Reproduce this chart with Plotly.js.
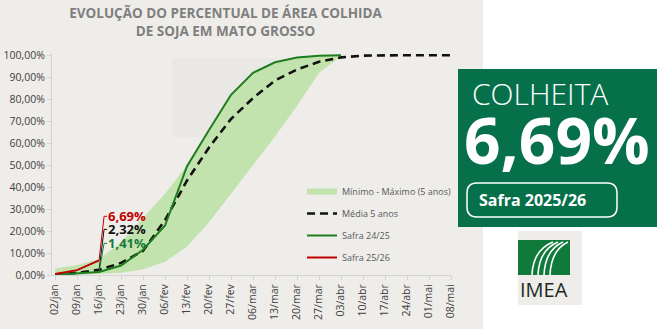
<!DOCTYPE html>
<html>
<head>
<meta charset="utf-8">
<script src="https://cdn.plot.ly/plotly-3.0.1.min.js"></script>
<style>
html,body{margin:0;padding:0;background:#ffffff;}
#chart{width:666px;height:329px;}
</style>
</head>
<body>
<div id="chart"></div>
<script>
// ---- data ----
const weeks = ['02/jan','09/jan','16/jan','23/jan','30/jan','06/fev','13/fev','20/fev','27/fev','06/mar','13/mar','20/mar','27/mar','03/abr','10/abr','17/abr','24/abr','01/mai','08/mai'];
const bandMin = [0, 0.2, 0.5, 1.0, 2.5, 6, 13, 24, 37, 50, 63, 77, 92, 99.5];
const bandMax = [3, 4.5, 7.2, 15, 26, 37, 50, 66.5, 82.5, 92.5, 97, 99.2, 100, 100];
const media5 = [0.2, 1.0, 2.32, 5.5, 11, 25, 43, 58, 71, 80.5, 88.5, 93.5, 97, 99, 99.8, 100, 100, 100, 100];
const safra2425 = [0.1, 0.7, 1.41, 4.3, 11.5, 22.5, 49.5, 66, 82, 92, 96.8, 99, 99.8, 100];
const safra2526 = [0.5, 2.2, 6.69];
const yTickVals = [0, 10, 20, 30, 40, 50, 60, 70, 80, 90, 100];
const yTickText = ['0,00%', '10,00%', '20,00%', '30,00%', '40,00%', '50,00%', '60,00%', '70,00%', '80,00%', '90,00%', '100,00%'];
const seriesNames = ['Mínimo - Máximo (5 anos)', 'Média 5 anos', 'Safra 24/25', 'Safra 25/26'];
const titleText = 'EVOLUÇÃO DO PERCENTUAL DE ÁREA COLHIDA<br>DE SOJA EM MATO GROSSO';
const panelTitle = 'COLHEITA';
const panelSub = 'Safra 2025/26';

// ---- helpers ----
const fmt = v => v.toFixed(2).replace('.', ',') + '%';
const W = 666, H = 329, L = 52, R = 451, T = 53, B = 275;
const px = x => (x - L) / (R - L);
const py = y => (B - y) / (B - T);

const cBand = '#c3e3ae', cGreen = '#1e7d1e', cRed = '#c00000', cDark = '#05704a';

const traces = [
  {x: weeks.slice(0, bandMin.length), y: bandMin, type: 'scatter', mode: 'lines',
   line: {width: 0, color: cBand}, showlegend: false, hoverinfo: 'skip'},
  {x: weeks.slice(0, bandMax.length), y: bandMax, type: 'scatter', mode: 'lines',
   fill: 'tonexty', fillcolor: cBand, line: {width: 0, color: cBand}, showlegend: false, hoverinfo: 'skip'},
  {x: [null], y: [null], type: 'scatter', mode: 'lines', name: seriesNames[0],
   line: {width: 6, color: cBand}, legendgroup: 'a', legendrank: 1},
  {x: weeks.slice(0, media5.length), y: media5, type: 'scatter', mode: 'lines', name: seriesNames[1],
   line: {width: 2.6, color: '#111111', dash: '8px,5px'}, legendgroup: 'b', legendrank: 2},
  {x: weeks.slice(0, safra2425.length), y: safra2425, type: 'scatter', mode: 'lines', name: seriesNames[2],
   line: {width: 2, color: cGreen}, legendgroup: 'c', legendrank: 3},
  {x: weeks.slice(0, safra2526.length), y: safra2526, type: 'scatter', mode: 'lines', name: seriesNames[3],
   line: {width: 2, color: cRed}, legendgroup: 'd', legendrank: 4}
];

const iLast = safra2526.length - 1;
const labelDefs = [
  {v: safra2526[iLast], color: cRed, dy: 44},
  {v: media5[iLast], color: '#111111', dy: 40.5},
  {v: safra2425[iLast], color: '#1a7a3c', dy: 28.5}
];

const shapes = [
  // white area on the right
  {type: 'rect', xref: 'paper', yref: 'paper', x0: px(483), x1: px(W + 5), y0: py(H + 5), y1: py(-5),
   fillcolor: '#ffffff', line: {width: 0}, layer: 'below'},
  // watermark block
  {type: 'rect', xref: 'paper', yref: 'paper', x0: px(172), x1: px(278), y0: py(137), y1: py(58),
   fillcolor: '#eae8e5', line: {width: 0}, layer: 'below'},
  // green panel
  {type: 'rect', xref: 'paper', yref: 'paper', x0: px(458), x1: px(657), y0: py(227), y1: py(69),
   fillcolor: cDark, line: {width: 0}, layer: 'above'},
  // logo box
  {type: 'rect', xref: 'paper', yref: 'paper', x0: px(518), x1: px(582), y0: py(305), y1: py(231),
   fillcolor: '#efedea', line: {width: 0}, layer: 'above'},
  {type: 'rect', xref: 'paper', yref: 'paper', x0: px(518), x1: px(570), y0: py(275), y1: py(240),
   fillcolor: '#0f7a3a', line: {width: 0}, layer: 'above'}
];

(function(){
  const x0 = 467, x1 = 617, y0 = 183, y1 = 217, r = 10;
  const P = (x, y) => px(x) + ',' + py(y);
  const path = 'M' + P(x0 + r, y0) + ' L' + P(x1 - r, y0) + ' Q' + P(x1, y0) + ' ' + P(x1, y0 + r) +
    ' L' + P(x1, y1 - r) + ' Q' + P(x1, y1) + ' ' + P(x1 - r, y1) +
    ' L' + P(x0 + r, y1) + ' Q' + P(x0, y1) + ' ' + P(x0, y1 - r) +
    ' L' + P(x0, y0 + r) + ' Q' + P(x0, y0) + ' ' + P(x0 + r, y0) + ' Z';
  shapes.push({type: 'path', xref: 'paper', yref: 'paper', path: path, line: {color: '#ffffff', width: 1.5}, layer: 'above'});
  // logo curves
  for (let i = 0; i < 4; i++) {
    const sx = 532 + i * 6, ex = 553 + i * 5;
    const p = 'M' + P(sx, 275) + ' Q' + P(sx + 1, 250) + ' ' + P(ex, 242);
    shapes.push({type: 'path', xref: 'paper', yref: 'paper', path: p, line: {color: '#ffffff', width: 1.6}, layer: 'above'});
  }
})();

// leader lines for labels
labelDefs.forEach(d => {
  shapes.push({type: 'line', xref: 'x', yref: 'y', xsizemode: 'pixel', ysizemode: 'pixel',
    xanchor: weeks[iLast], yanchor: d.v, x0: 0, x1: 5, y0: 0, y1: d.dy, line: {color: d.color, width: 1}});
  shapes.push({type: 'line', xref: 'x', yref: 'y', xsizemode: 'pixel', ysizemode: 'pixel',
    xanchor: weeks[iLast], yanchor: d.v, x0: 5, x1: 8, y0: d.dy, y1: d.dy, line: {color: d.color, width: 1}});
});

const annotations = labelDefs.map(d => ({
  x: weeks[iLast], y: d.v, xref: 'x', yref: 'y', text: '<b>' + fmt(d.v) + '</b>', showarrow: false,
  xanchor: 'left', yanchor: 'middle', xshift: 8, yshift: d.dy, borderpad: 0,
  font: {family: 'Open Sans', size: 13, color: d.color}
}));

annotations.push(
  {xref: 'paper', yref: 'paper', x: px(470), y: py(93), xanchor: 'left', yanchor: 'middle', showarrow: false,
   text: panelTitle, font: {family: 'Open Sans', size: 30, color: '#ffffff', weight: 300}},
  {xref: 'paper', yref: 'paper', x: px(557), y: py(139), xanchor: 'center', yanchor: 'middle', showarrow: false,
   text: '<b>' + fmt(safra2526[iLast]) + '</b>', font: {family: 'Open Sans', size: 64, color: '#ffffff'}},
  {xref: 'paper', yref: 'paper', x: px(532), y: py(200), xanchor: 'center', yanchor: 'middle', showarrow: false,
   text: '<b>' + panelSub + '</b>', font: {family: 'Open Sans', size: 16, color: '#ffffff'}},
  {xref: 'paper', yref: 'paper', x: px(544), y: py(289), xanchor: 'center', yanchor: 'middle', showarrow: false,
   text: 'IMEA', font: {family: 'Open Sans', size: 20, color: '#1c2b22'}}
);

const layout = {
  width: W, height: H,
  margin: {l: L, r: W - R, t: T, b: H - B, pad: 0},
  paper_bgcolor: '#efedea', plot_bgcolor: '#efedea',
  title: {text: '<b>' + titleText + '</b>', x: 225.5 / W, xanchor: 'center', y: 1 - 18 / H, yanchor: 'middle',
    font: {family: 'Open Sans', size: 13.5, color: '#7f7f7f'}},
  xaxis: {type: 'category', range: [-0.14, 18], showline: true, linecolor: '#d4d4d4', linewidth: 1,
    ticks: 'outside', ticklen: 4, tickcolor: '#d4d4d4', showgrid: false, zeroline: false,
    tickangle: -90, tickfont: {family: 'Open Sans', size: 10.5, color: '#404040'}, fixedrange: true},
  yaxis: {range: [0, 101], tickmode: 'array', tickvals: yTickVals, ticktext: yTickText,
    showline: true, linecolor: '#d4d4d4', linewidth: 1, ticks: 'outside', ticklen: 4, tickcolor: '#d4d4d4',
    showgrid: false, zeroline: false, tickfont: {family: 'Open Sans', size: 10.5, color: '#404040'}, fixedrange: true},
  showlegend: true,
  legend: {x: px(302), y: py(177), xanchor: 'left', yanchor: 'top', bgcolor: 'rgba(0,0,0,0)',
    font: {family: 'Open Sans', size: 9, color: '#595959'}, tracegroupgap: 3, traceorder: 'grouped'},
  shapes: shapes,
  annotations: annotations
};

Plotly.newPlot('chart', traces, layout, {displayModeBar: false, staticPlot: true});
</script>
</body>
</html>
